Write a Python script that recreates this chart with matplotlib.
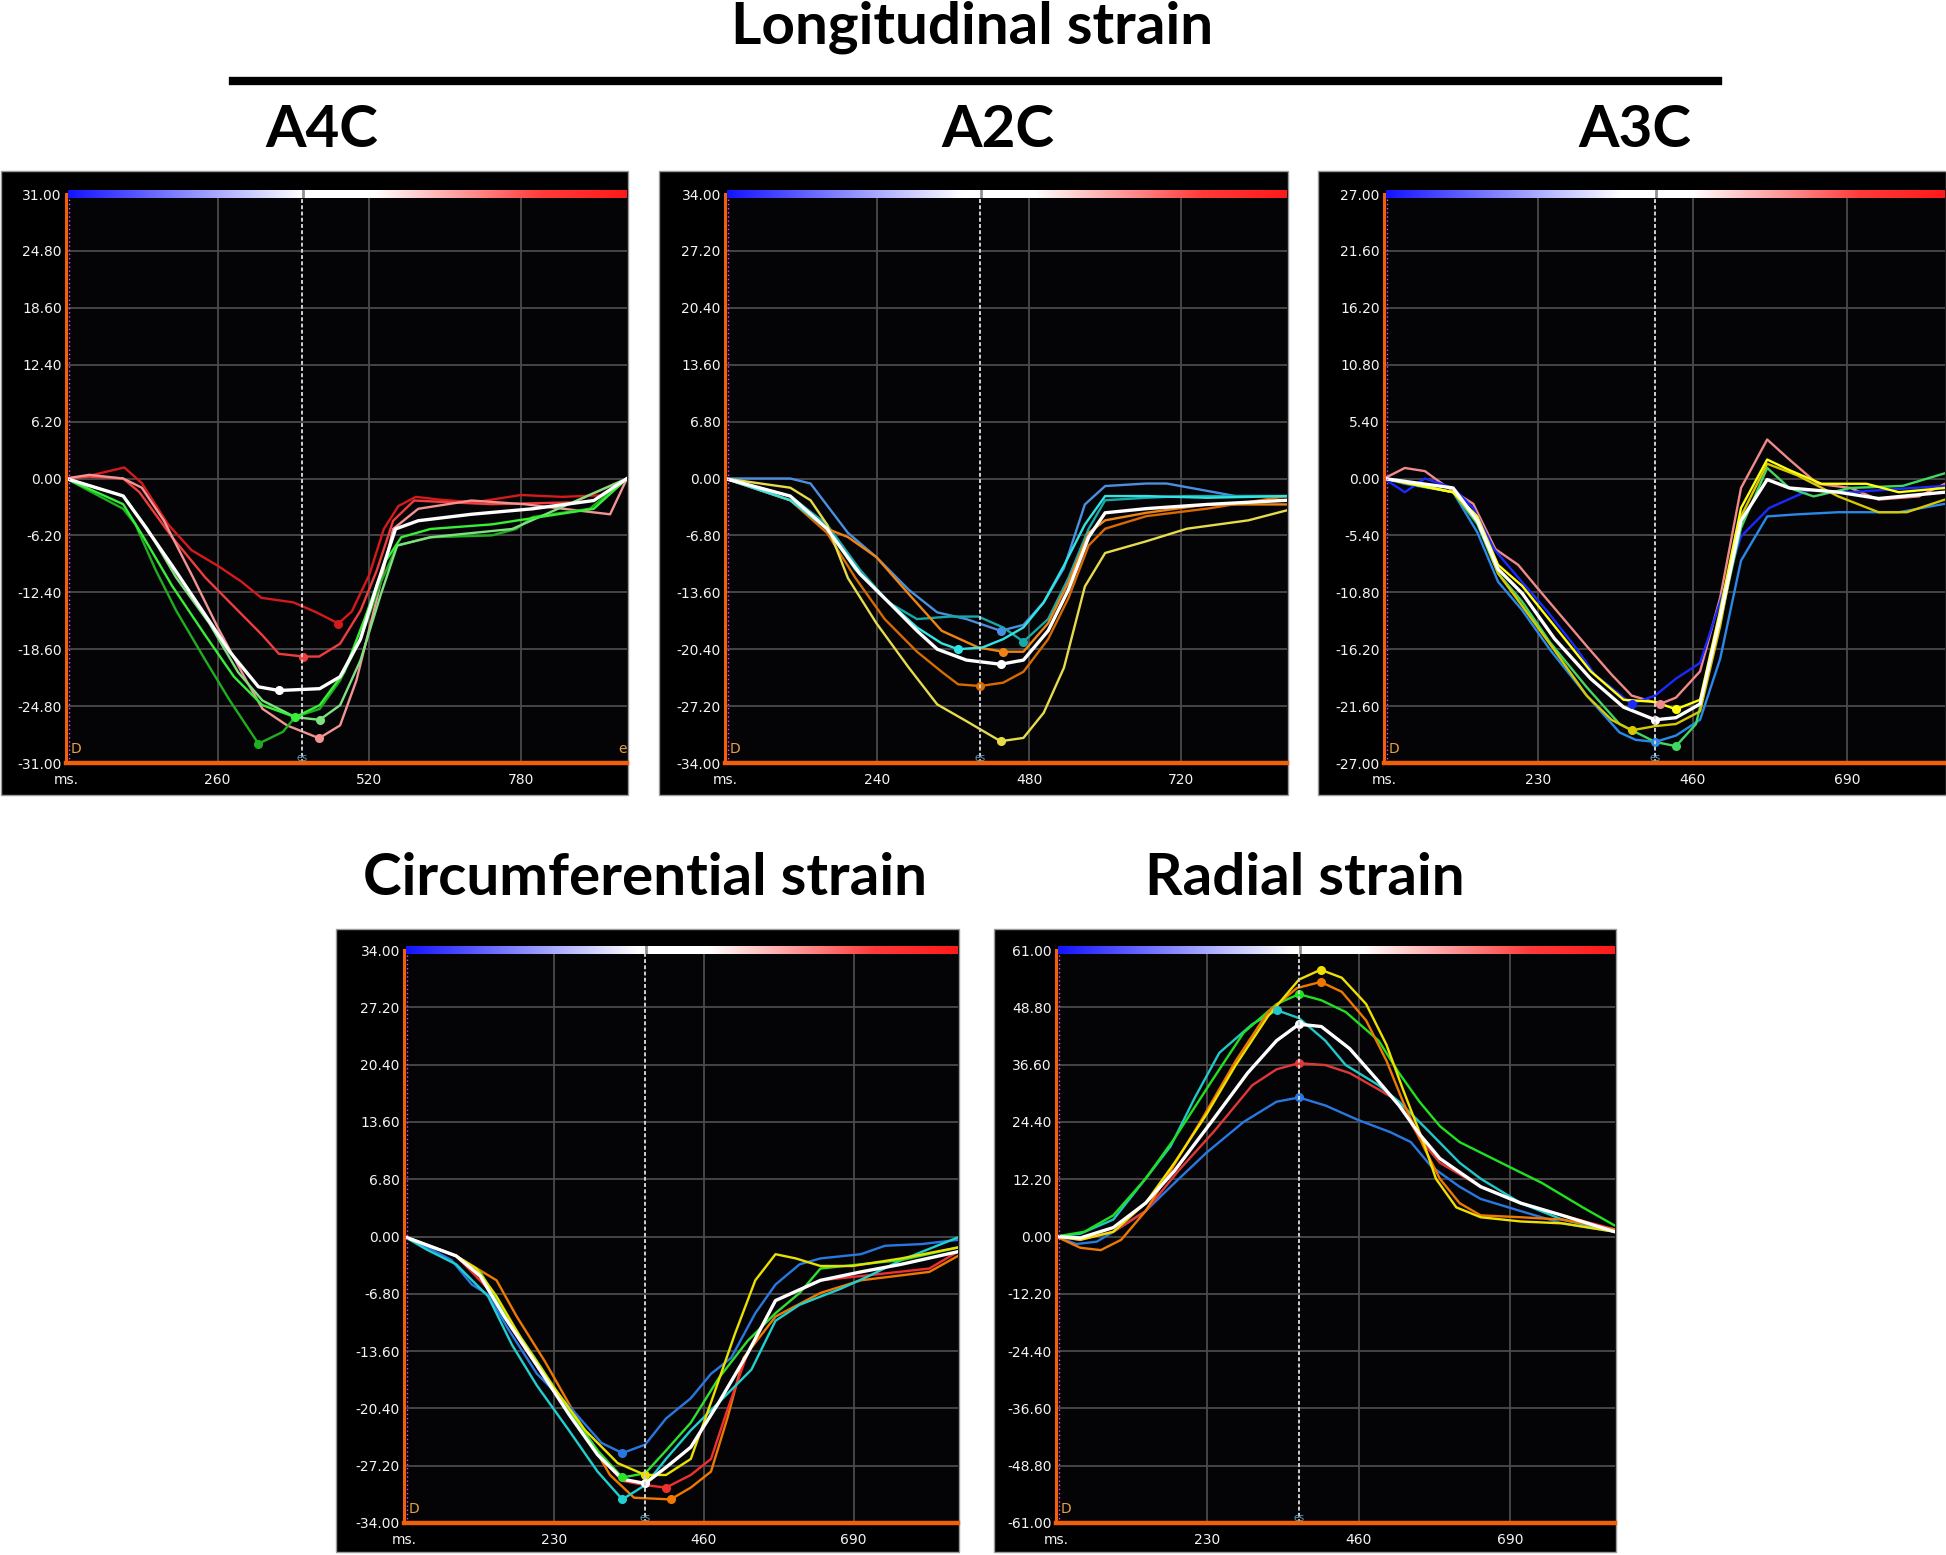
import numpy as np
import matplotlib.pyplot as plt
from matplotlib.colors import LinearSegmentedColormap
from matplotlib.patches import Rectangle

# DATA  (time in ms, strain in %)

# A4C longitudinal
a4c_dark_red = [(0, 0), (40, 0.3), (100, 1.2), (130, -0.5), (175, -5.0), (215, -7.8), (260, -9.5),
                (300, -11.2), (335, -13.0), (390, -13.5), (430, -14.6), (467, -15.8), (490, -14.5),
                (520, -10.5), (545, -5.5), (570, -3.0), (600, -2.0), (640, -2.3), (700, -2.6),
                (780, -1.8), (850, -2.0), (930, -1.8), (962, 0)]
a4c_red = [(0, 0), (40, 0.2), (98, 0), (126, -1.5), (182, -6.4), (239, -10.8), (295, -14.4), (337, -17.1),
           (365, -19.1), (407, -19.4), (434, -19.4), (470, -18.0), (505, -14.4), (533, -10.0),
           (561, -4.6), (597, -2.4), (660, -2.6), (730, -2.8), (870, -2.6), (962, 0)]
a4c_pink = [(0, 0), (40, 0.4), (98, 0), (130, -1.0), (168, -4.6), (218, -10.8), (260, -16.2), (309, -22.0),
            (337, -25.1), (379, -26.9), (434, -28.3), (470, -26.9), (498, -22.0), (533, -13.1),
            (561, -5.5), (604, -3.3), (695, -2.4), (786, -2.8), (933, -3.9), (962, 0)]
a4c_dark_green = [(0, 0), (98, -3.3), (119, -5.0), (154, -10.0), (189, -14.4), (239, -19.8), (281, -24.2),
                  (330, -28.9), (372, -27.6), (393, -26.0), (435, -25.1), (470, -22.0), (505, -17.5),
                  (540, -11.3), (568, -7.3), (625, -6.4), (730, -6.2), (772, -5.5), (800, -4.2),
                  (898, -3.3), (962, 0)]
a4c_green = [(0, 0), (98, -2.8), (133, -6.4), (182, -11.7), (239, -17.1), (288, -21.6), (337, -24.7),
             (393, -26.0), (435, -24.7), (477, -21.1), (512, -15.3), (547, -9.1), (575, -6.4),
             (625, -5.5), (730, -5.0), (905, -3.3), (962, 0)]
a4c_light_green = [(0, 0), (98, -1.9), (140, -5.5), (189, -10.8), (246, -15.8), (295, -21.1), (337, -24.2),
                   (393, -26.0), (435, -26.3), (470, -24.7), (505, -19.8), (540, -12.6), (568, -7.3),
                   (625, -6.4), (765, -5.5), (962, 0)]
a4c_mean = [(0, 0), (98, -1.9), (133, -5.0), (182, -9.5), (239, -14.9), (281, -18.9), (330, -22.7),
            (365, -23.1), (435, -22.9), (470, -21.6), (505, -17.5), (533, -11.7), (565, -5.5),
            (604, -4.6), (695, -3.9), (800, -3.3), (905, -2.4), (962, 0)]

# A2C longitudinal
a2c_blue = [(0, 0), (103, 0), (135, -0.6), (194, -6.5), (239, -9.4), (290, -13.3), (335, -16.0),
            (381, -16.8), (435, -18.2), (471, -17.5), (503, -14.8), (535, -10.7), (568, -3.1),
            (600, -0.9), (665, -0.6), (697, -0.6), (806, -2.1), (887, -2.1)]
a2c_cyan = [(0, 0), (103, -2.6), (161, -6.0), (206, -10.9), (252, -14.3), (303, -17.8), (342, -19.7),
            (368, -20.4), (406, -20.2), (439, -19.2), (471, -17.8), (503, -14.8), (535, -10.4),
            (568, -5.5), (600, -2.1), (665, -2.1), (761, -2.3), (887, -2.1)]
a2c_teal = [(0, 0), (103, -2.1), (161, -5.5), (213, -10.9), (258, -14.8), (303, -16.8), (355, -16.5),
            (400, -16.5), (439, -17.8), (471, -19.5), (510, -16.8), (542, -11.9), (574, -6.0),
            (600, -2.6), (665, -2.3), (729, -2.1), (887, -2.1)]
a2c_orange = [(0, 0), (103, -2.6), (161, -6.0), (194, -7.0), (239, -9.4), (290, -13.8), (342, -18.2),
              (400, -20.2), (439, -20.7), (471, -20.7), (510, -17.3), (542, -12.4), (574, -6.5),
              (600, -5.0), (665, -4.1), (761, -3.1), (887, -3.1)]
a2c_dark_orange = [(0, 0), (103, -2.6), (161, -6.5), (206, -11.9), (252, -16.8), (303, -20.7),
                   (342, -23.1), (368, -24.6), (403, -24.8), (439, -24.4), (471, -23.1), (510, -19.2),
                   (542, -14.3), (574, -8.0), (600, -6.0), (665, -4.5), (761, -3.6), (887, -2.1)]
a2c_yellow = [(0, 0), (103, -1.1), (135, -2.6), (161, -5.5), (194, -11.9), (239, -17.3), (290, -22.6),
              (335, -27.0), (381, -29.0), (435, -31.4), (471, -31.0), (503, -28.0), (535, -22.6),
              (568, -12.9), (600, -8.9), (665, -7.5), (729, -6.0), (826, -5.0), (887, -3.8)]
a2c_mean = [(0, 0), (103, -2.1), (161, -6.0), (213, -11.4), (265, -15.3), (303, -18.2), (335, -20.4),
            (381, -21.7), (435, -22.2), (471, -21.7), (510, -18.2), (542, -13.3), (574, -7.0),
            (600, -4.1), (665, -3.6), (761, -3.1), (887, -2.6)]

# A3C longitudinal
a3c_pink = [(0, 0), (31, 1.0), (61, 0.7), (91, -0.7), (133, -2.4), (166, -6.7), (200, -8.2), (230, -10.5),
            (266, -13.2), (302, -15.9), (339, -18.6), (369, -20.6), (411, -21.4), (435, -20.8),
            (471, -18.3), (501, -11.3), (532, -0.9), (571, 3.7), (604, 1.8), (646, -0.5), (695, -0.9),
            (737, -2.0), (797, -1.7), (836, -0.5)]
a3c_blue = [(0, 0), (31, -1.3), (61, 0), (103, -0.9), (133, -2.8), (164, -6.7), (200, -9.4), (242, -12.5),
            (284, -15.9), (314, -18.6), (369, -21.4), (404, -20.6), (435, -19.0), (471, -17.5),
            (501, -11.7), (532, -5.5), (574, -2.8), (634, -1.1), (695, -1.3), (836, -0.7)]
a3c_light_blue = [(0, 0), (31, -0.5), (103, -1.3), (139, -5.1), (170, -9.8), (206, -12.5), (248, -16.3),
                  (302, -20.6), (351, -24.1), (375, -24.8), (404, -25.0), (435, -24.4), (471, -22.9),
                  (501, -17.1), (532, -7.8), (571, -3.6), (616, -3.4), (677, -3.2), (767, -3.2),
                  (836, -2.4)]
a3c_green = [(0, 0), (103, -1.3), (139, -4.3), (170, -9.0), (206, -11.7), (248, -15.6), (302, -19.8),
             (351, -23.3), (404, -25.0), (435, -25.4), (465, -23.3), (495, -15.2), (532, -4.7),
             (571, 1.0), (604, -0.9), (640, -1.7), (695, -0.9), (773, -0.7), (836, 0.5)]
a3c_yellow = [(0, 0), (103, -1.3), (139, -3.6), (170, -8.2), (206, -10.2), (254, -14.0), (308, -18.3),
              (357, -21.0), (404, -21.2), (435, -21.9), (471, -21.0), (501, -12.5), (532, -2.8),
              (571, 1.8), (604, 0.8), (652, -0.5), (719, -0.5), (767, -1.3), (836, -0.9)]
a3c_dark_yellow = [(0, 0), (103, -1.3), (139, -4.0), (170, -9.0), (206, -12.1), (254, -16.3),
                   (302, -20.6), (339, -22.9), (369, -23.9), (404, -23.5), (435, -23.3), (471, -22.1),
                   (501, -14.0), (532, -3.6), (571, 1.4), (616, 0.3), (677, -1.7), (737, -3.2),
                   (779, -3.2), (836, -2.0)]
a3c_mean = [(0, 0), (103, -0.9), (139, -4.0), (170, -8.6), (206, -10.9), (254, -15.2), (308, -19.0),
            (357, -21.7), (404, -22.9), (435, -22.7), (471, -21.4), (501, -13.2), (532, -4.0),
            (571, -0.1), (604, -0.9), (677, -1.3), (737, -1.9), (836, -1.3)]

# Circumferential strain
cs_blue = [(0, 0), (36, -1.3), (73, -2.8), (104, -5.7), (129, -6.9), (160, -11.0), (204, -16.3),
           (253, -20.1), (303, -24.5), (335, -25.7), (370, -24.7), (402, -21.6), (440, -19.2),
           (471, -16.3), (502, -14.4), (539, -9.1), (570, -5.7), (607, -3.3), (639, -2.6), (701, -2.1),
           (738, -1.1), (794, -0.9), (850, -0.4)]
cs_cyan = [(0, 0), (36, -1.6), (80, -3.3), (129, -7.1), (166, -12.9), (204, -17.7), (253, -23.0),
           (297, -27.9), (335, -31.2), (370, -29.5), (402, -26.4), (440, -23.0), (483, -19.7),
           (533, -15.8), (570, -10.0), (607, -8.1), (670, -6.2), (713, -4.7), (763, -2.8), (850, -0.1)]
cs_yellow = [(0, 0), (80, -2.3), (111, -3.8), (142, -7.1), (179, -12.0), (228, -17.7), (278, -23.0),
             (328, -26.9), (370, -28.3), (402, -28.3), (440, -26.4), (471, -19.7), (508, -11.5),
             (539, -5.2), (570, -2.1), (601, -2.6), (639, -3.5), (688, -3.5), (763, -2.6), (850, -1.3)]
cs_green = [(0, 0), (80, -2.3), (117, -4.2), (154, -9.1), (204, -14.8), (253, -20.6), (297, -25.4),
            (335, -28.6), (370, -28.1), (402, -25.4), (440, -22.1), (483, -16.8), (527, -12.4),
            (570, -9.1), (607, -6.7), (639, -3.8), (701, -3.3), (763, -2.8), (850, -1.3)]
cs_red = [(0, 0), (80, -2.3), (129, -6.2), (166, -11.0), (216, -16.8), (266, -22.1), (316, -27.4),
          (335, -29.0), (370, -29.5), (402, -29.8), (440, -28.3), (471, -26.4), (496, -20.6),
          (527, -13.9), (570, -7.6), (639, -5.2), (701, -4.7), (806, -3.8), (850, -1.8)]
cs_orange = [(0, 0), (80, -2.3), (142, -5.2), (173, -9.5), (216, -14.8), (266, -21.6), (316, -28.3),
             (353, -31.0), (409, -31.2), (440, -29.8), (471, -27.9), (496, -21.6), (521, -14.4),
             (570, -9.5), (639, -6.7), (701, -5.2), (806, -4.2), (850, -2.3)]
cs_mean = [(0, 0), (80, -2.3), (117, -4.7), (154, -9.5), (204, -15.3), (253, -21.1), (297, -25.9),
           (335, -28.8), (370, -29.3), (402, -27.4), (440, -25.0), (483, -19.7), (527, -13.9),
           (570, -7.6), (639, -5.2), (701, -4.2), (763, -3.3), (850, -1.8)]

# Radial strain
rs_blue = [(0, 0), (31, -1.6), (62, -1.1), (87, 1.0), (136, 5.4), (180, 11.4), (229, 17.9), (285, 24.4),
           (335, 28.7), (369, 29.6), (409, 27.9), (459, 24.8), (508, 22.2), (539, 20.1), (570, 14.9),
           (613, 10.6), (645, 8.0), (706, 5.4), (769, 2.8), (849, 1.0)]
rs_red = [(0, 0), (37, -0.7), (87, 1.0), (136, 5.4), (186, 14.0), (242, 22.7), (298, 32.2), (335, 35.6),
          (369, 36.9), (409, 36.5), (446, 34.8), (490, 31.3), (521, 28.7), (552, 20.9), (583, 15.7),
          (645, 10.6), (706, 7.1), (769, 4.5), (849, 1.5)]
rs_cyan = [(0, 0), (37, 0.6), (87, 3.6), (136, 12.3), (174, 19.2), (211, 29.6), (248, 39.1), (298, 45.2),
           (335, 48.2), (369, 46.5), (409, 41.7), (440, 36.5), (490, 32.2), (521, 28.7), (564, 22.7),
           (613, 15.7), (645, 12.3), (706, 7.1), (769, 3.6), (849, 1.0)]
rs_green = [(0, 0), (43, 1.0), (87, 4.5), (136, 12.3), (180, 20.9), (236, 33.0), (285, 43.4), (335, 49.5),
            (369, 51.6), (403, 50.3), (440, 47.8), (490, 41.7), (521, 34.8), (552, 28.7), (583, 23.5),
            (613, 20.1), (676, 15.7), (738, 11.4), (800, 6.2), (849, 2.3)]
rs_orange = [(0, 0), (37, -2.4), (68, -2.9), (99, -0.7), (136, 5.4), (174, 14.0), (223, 25.3),
             (273, 37.4), (322, 47.8), (366, 52.9), (402, 54.2), (434, 52.1), (471, 46.0), (502, 37.4),
             (527, 28.7), (558, 19.2), (583, 12.3), (613, 7.1), (645, 4.5), (706, 4.1), (769, 3.6),
             (849, 1.5)]
rs_yellow = [(0, 0), (37, -0.7), (87, 1.0), (136, 7.1), (180, 15.7), (229, 26.1), (273, 36.5),
             (322, 46.9), (369, 54.7), (402, 56.8), (434, 55.1), (471, 49.5), (502, 40.8), (527, 31.3),
             (558, 20.1), (577, 12.3), (608, 6.2), (645, 4.1), (706, 3.2), (769, 2.8), (849, 1.0)]
rs_mean = [(0, 0), (37, -0.3), (87, 1.9), (136, 7.1), (180, 14.0), (236, 24.4), (291, 34.8), (335, 41.7),
           (369, 45.2), (403, 44.7), (446, 40.0), (490, 33.0), (521, 27.9), (552, 21.8), (583, 16.6),
           (645, 10.6), (706, 7.1), (769, 4.5), (849, 1.0)]

# axis ranges, ticks and end-systole time for each panel
a4c_ylim, a4c_xmax, a4c_xticks, a4c_es = 31.0, 962, [260, 520, 780], 405
a2c_ylim, a2c_xmax, a2c_xticks, a2c_es = 34.0, 887, [240, 480, 720], 403
a3c_ylim, a3c_xmax, a3c_xticks, a3c_es = 27.0, 836, [230, 460, 690], 404
cs_ylim, cs_xmax, cs_xticks, cs_es = 34.0, 850, [230, 460, 690], 370
rs_ylim, rs_xmax, rs_xticks, rs_es = 61.0, 849, [230, 460, 690], 369


# FIGURE

W, H = 1946, 1555
fig = plt.figure(figsize=(W / 100, H / 100), dpi=100)
fig.patch.set_facecolor("white")

TITLE_FONT = dict(family=["Lato", "DejaVu Sans"], fontweight="bold", fontsize=42, color="black")
ORANGE = "#f0600a"
GRID = "#4a4a4a"

bar_cmap = LinearSegmentedColormap.from_list(
    "bar", [(0, "#1414ff"), (0.42, "#ffffff"), (0.55, "#ffffff"), (0.85, "#ff3a3a"), (1, "#ff1a1a")])


def fig_rect(x0, y0, x1, y1):
    # pixel box (top-left origin) -> figure fraction [left, bottom, width, height]
    return [x0 / W, 1 - y1 / H, (x1 - x0) / W, (y1 - y0) / H]


def strain_panel(box, plot_box, ylim, xmax, xticks, es, curves, mean, peak="min", end_mark=False):
    bx = fig_rect(*box)
    fig.add_artist(Rectangle((bx[0], bx[1]), bx[2], bx[3], transform=fig.transFigure,
                             facecolor="black", edgecolor="#9a9a9a", lw=1, zorder=0))

    ax = fig.add_axes(fig_rect(*plot_box))
    ax.set_facecolor("#040407")

    yt = np.linspace(-ylim, ylim, 11)
    for y in yt[1:-1]:
        ax.axhline(y, color=GRID, lw=1.3, zorder=1)
    for x in xticks:
        ax.axvline(x, color=GRID, lw=1.3, zorder=1)

    for pts, col in curves + [(mean, "white")]:
        t = [p[0] for p in pts]
        v = [p[1] for p in pts]
        lw = 2.4 if col == "white" else 1.7
        ax.plot(t, v, color=col, lw=lw, zorder=4 if col == "white" else 3, solid_joinstyle="round")
        i = int(np.argmin(v)) if peak == "min" else int(np.argmax(v))
        ax.plot(t[i], v[i], "o", color=col, ms=5.5, zorder=5)

    # end-systole marker
    ax.axvline(es, color="#d0d0d0", lw=1.4, ls=(0, (2, 1.2)), zorder=6)
    ax.text(es, -ylim, "es", color="#5aa0c0", fontsize=7, ha="center", va="bottom", zorder=7)

    ax.set_xlim(0, xmax)
    ax.set_ylim(-ylim, ylim)
    ax.set_yticks(yt)
    ax.set_yticklabels([f"{y:.2f}" for y in yt])
    ax.set_xticks([0] + xticks)
    ax.set_xticklabels(["ms."] + [str(x) for x in xticks])
    ax.tick_params(length=0, labelsize=10, labelcolor="#f4f4f4", pad=3)
    ax.tick_params(axis="x", pad=7)

    for s in ["top", "right"]:
        ax.spines[s].set_visible(False)
    ax.spines["left"].set_color(ORANGE)
    ax.spines["left"].set_linewidth(2.2)
    ax.spines["bottom"].set_color(ORANGE)
    ax.spines["bottom"].set_linewidth(3.2)
    ax.spines["left"].set_zorder(8)
    ax.spines["bottom"].set_zorder(8)

    # magenta dotted guide next to the y axis
    ax.plot([0.006, 0.006], [0, 1], transform=ax.transAxes, color="#ff40ff", lw=1,
            ls=(0, (1, 2)), zorder=7, clip_on=False)
    ax.text(0.008, 0.012, "D", transform=ax.transAxes, color="#e8a040", fontsize=10,
            ha="left", va="bottom", zorder=9)
    if end_mark:
        ax.text(1.0, 0.012, "e", transform=ax.transAxes, color="#e8a040", fontsize=10,
                ha="right", va="bottom", zorder=9)

    # blue-white-red colour bar along the top edge
    x0, y0, x1, y1 = plot_box
    bar = fig.add_axes(fig_rect(x0 + 2, y0 - 4, x1, y0 + 4))
    bar.imshow(np.linspace(0, 1, 256)[None, :], cmap=bar_cmap, aspect="auto",
               extent=[0, 1, 0, 1])
    bar.axvline((es) / xmax, color="#909090", lw=2)
    bar.set_axis_off()
    return ax


strain_panel((1, 171, 628, 795), (66, 194, 627, 763), a4c_ylim, a4c_xmax, a4c_xticks, a4c_es,
             [(a4c_dark_red, "#d41a1a"), (a4c_red, "#f03c3c"), (a4c_pink, "#f29494"),
              (a4c_dark_green, "#1fae1f"), (a4c_light_green, "#7fe07f"), (a4c_green, "#36f036")],
             a4c_mean, end_mark=True)

strain_panel((659, 171, 1288, 795), (725, 194, 1287, 763), a2c_ylim, a2c_xmax, a2c_xticks, a2c_es,
             [(a2c_blue, "#4a90e0"), (a2c_teal, "#18a8a8"), (a2c_orange, "#f08412"),
              (a2c_dark_orange, "#d86a00"), (a2c_yellow, "#e6dc4a"), (a2c_cyan, "#30e4e4")],
             a2c_mean)

strain_panel((1318, 171, 1946, 795), (1384, 194, 1945, 763), a3c_ylim, a3c_xmax, a3c_xticks, a3c_es,
             [(a3c_pink, "#f08a8a"), (a3c_light_blue, "#2a88e8"), (a3c_blue, "#1a2aff"),
              (a3c_green, "#40d860"), (a3c_dark_yellow, "#d8c800"), (a3c_yellow, "#ffff10")],
             a3c_mean)

strain_panel((336, 929, 959, 1552), (404, 950, 958, 1523), cs_ylim, cs_xmax, cs_xticks, cs_es,
             [(cs_orange, "#f07800"), (cs_red, "#f03030"), (cs_blue, "#2878e0"),
              (cs_cyan, "#20d0d0"), (cs_green, "#30e030"), (cs_yellow, "#e8e000")],
             cs_mean)

strain_panel((994, 929, 1616, 1552), (1056, 950, 1615, 1523), rs_ylim, rs_xmax, rs_xticks, rs_es,
             [(rs_blue, "#2878e0"), (rs_red, "#e03838"), (rs_cyan, "#20c8c8"),
              (rs_green, "#20e020"), (rs_orange, "#f07800"), (rs_yellow, "#f0e000")],
             rs_mean, peak="max")


# TITLES

fig.text(972 / W, 1 - 44 / H, "Longitudinal strain", ha="center", va="baseline", **TITLE_FONT)
fig.add_artist(plt.Line2D([233 / W, 1718 / W], [1 - 81 / H, 1 - 81 / H], color="black", lw=6,
                          transform=fig.transFigure))
fig.text(322 / W, 1 - 147 / H, "A4C", ha="center", va="baseline", **TITLE_FONT)
fig.text(998 / W, 1 - 147 / H, "A2C", ha="center", va="baseline", **TITLE_FONT)
fig.text(1635 / W, 1 - 147 / H, "A3C", ha="center", va="baseline", **TITLE_FONT)
fig.text(645 / W, 1 - 895 / H, "Circumferential strain", ha="center", va="baseline", **TITLE_FONT)
fig.text(1305 / W, 1 - 895 / H, "Radial strain", ha="center", va="baseline", **TITLE_FONT)

fig.savefig("out.png", dpi=100, facecolor="white")
